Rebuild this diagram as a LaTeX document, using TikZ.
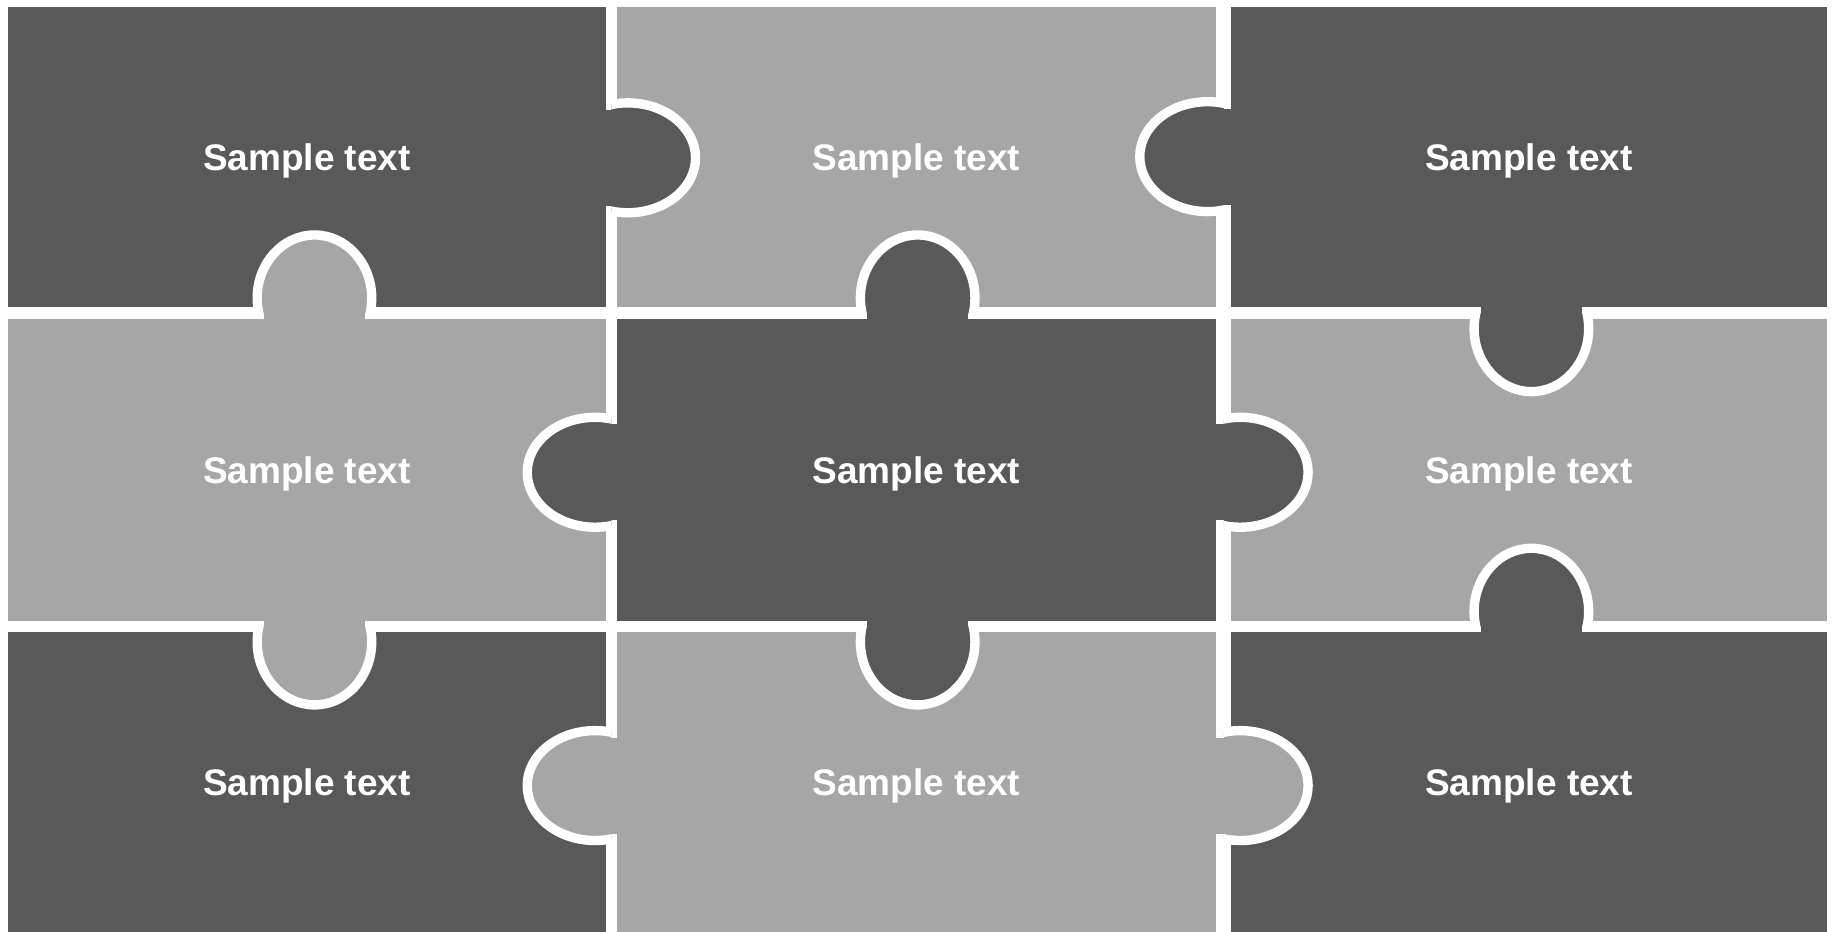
\documentclass[tikz,border=0pt]{standalone}
\usepackage{fontspec}
\setmainfont{Liberation Sans}
\definecolor{darkpiece}{HTML}{595959}
\definecolor{lightpiece}{HTML}{A6A6A6}
\tikzset{
	ring/.style={draw=white, line width=0.08cm},
	sampletext/.style={text=white, font=\bfseries\fontsize{9}{11}\selectfont}
}

\begin{document}
\begin{tikzpicture}[x=0.01cm,y=-0.01cm]
\fill[white] (0,0) rectangle (1568,797);
\foreach \n/\xa/\ya/\xb/\yb/\c in {1/7/6/518/263/darkpiece, 2/528/6/1040/263/lightpiece, 3/1053/6/1563/263/darkpiece,
	4/7/273/518/531/lightpiece, 5/528/273/1040/531/darkpiece, 6/1053/273/1563/531/lightpiece,
	7/7/541/518/797/darkpiece, 8/528/541/1040/797/lightpiece, 9/1053/541/1563/797/darkpiece} {
	\fill[\c] (\xa,\ya) rectangle (\xb,\yb);
	\node[sampletext] (piece\n) at ({(\xa+\xb)/2},{(\ya+\yb)/2+3}) {Sample text};
}
\foreach \g/\cy/\s/\c in {523/135/1/darkpiece, 1047/134/-1/darkpiece, 523/404/-1/darkpiece,
	1047/404/1/darkpiece, 523/672/-1/lightpiece, 1047/672/1/lightpiece} {
	\begin{scope}
		\clip (\g,\cy-60) rectangle ++(\s*90,120);
		\draw[ring, fill=\c] (\g+\s*14,\cy) ellipse [x radius=58, y radius=47];
	\end{scope}
	\fill[\c] (\g-\s*9,\cy-41) rectangle (\g+\s*1,\cy+41);
}
\foreach \cx/\g/\s/\c in {269/268/-1/lightpiece, 785/268/-1/darkpiece, 1310/268/1/darkpiece,
	269/536/1/lightpiece, 785/536/1/darkpiece, 1310/536/-1/darkpiece} {
	\begin{scope}
		\clip (\cx-60,\g) rectangle ++(120,\s*90);
		\draw[ring, fill=\c] (\cx,\g+\s*13) ellipse [x radius=49, y radius=54];
	\end{scope}
	\fill[\c] (\cx-43,\g-\s*7) rectangle (\cx+43,\g+\s*1);
}
\end{tikzpicture}
\end{document}
